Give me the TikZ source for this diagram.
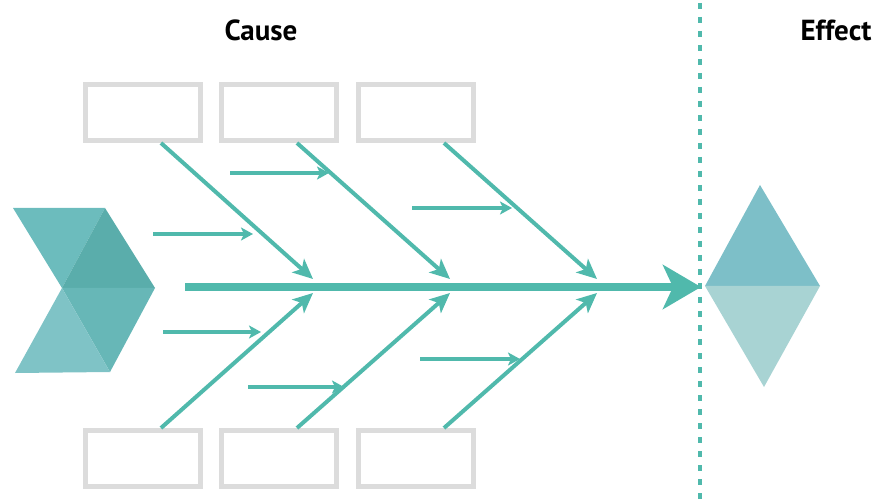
\documentclass[tikz,border=0pt]{standalone}
\usepackage{fontspec}
\setmainfont{PT Sans}
\usepackage{tikz}
\usetikzlibrary{
  arrows.meta,
  positioning,
  calc
}
\definecolor{fishteal}{RGB}{80,185,172}
\definecolor{boxgray}{RGB}{220,220,220}
\definecolor{chevA}{RGB}{108,188,189}
\definecolor{chevB}{RGB}{90,173,171}
\definecolor{chevC}{RGB}{103,183,183}
\definecolor{chevD}{RGB}{127,195,198}
\definecolor{diaTop}{RGB}{125,191,200}
\definecolor{diaBot}{RGB}{168,211,211}
\tikzset{
  causebox/.style={draw=boxgray,line width=5pt,minimum width=115pt,minimum height=56pt,inner sep=0pt},
  bone/.style={fishteal,line width=4pt,-{Stealth[length=20pt,width=18pt,inset=5pt]}},
  twig/.style={fishteal,line width=4pt,-{Stealth[length=12pt,width=13pt,inset=3pt]}},
  spine/.style={fishteal,line width=8pt,-{Stealth[length=38pt,width=44pt,inset=10pt]}},
  divider/.style={fishteal,line width=3.5pt,dash pattern=on 6pt off 8pt},
  heading/.style={font=\bfseries\fontsize{29}{31}\selectfont}
}

\begin{document}
\begin{tikzpicture}[x=1pt,y=-1pt]
	\useasboundingbox (0,0) rectangle (877,502);

	% head of the fish
	\fill[chevA] (13,208) -- (105,208) -- (62,288) -- cycle;
	\fill[chevB] (105,208) -- (155,288) -- (62,288) -- cycle;
	\fill[chevC] (62,288) -- (155,288) -- (110,372) -- cycle;
	\fill[chevD] (62,288) -- (110,372) -- (15,373) -- cycle;

	% effect
	\fill[diaTop] (705,286) -- (760,185) -- (820,286) -- cycle;
	\fill[diaBot] (705,286) -- (820,286) -- (764,387) -- cycle;
	\draw[divider] (700,3) -- (700,502);

	\node[heading] (cause) at (261,30) {Cause};
	\node[heading] (effect) at (836,30) {Effect};

	\node[causebox] (top1) at (143,112.5) {};
	\node[causebox] (top2) at (279,112.5) {};
	\node[causebox] (top3) at (416,112.5) {};
	\node[causebox] (bot1) at (143,458.5) {};
	\node[causebox] (bot2) at (279,458.5) {};
	\node[causebox] (bot3) at (416,458.5) {};

	\coordinate (tail) at (185,287);
	\coordinate (head) at (701,287);
	\draw[spine] (tail) -- (head);

	\coordinate (j1t) at (313,279);
	\coordinate (j2t) at (450,279);
	\coordinate (j3t) at (597,279);
	\coordinate (j1b) at (313,293);
	\coordinate (j2b) at (450,293);
	\coordinate (j3b) at (597,293);

	\draw[bone] ([xshift=18pt]top1.south) -- (j1t);
	\draw[bone] ([xshift=18pt]top2.south) -- (j2t);
	\draw[bone] ([xshift=28pt]top3.south) -- (j3t);
	\draw[bone] ([xshift=18pt]bot1.north) -- (j1b);
	\draw[bone] ([xshift=18pt]bot2.north) -- (j2b);
	\draw[bone] ([xshift=28pt]bot3.north) -- (j3b);

	% sub causes
	\coordinate (sub1) at (230,173);
	\coordinate (sub2) at (153,234);
	\coordinate (sub3) at (412,208);
	\coordinate (sub4) at (163,332);
	\coordinate (sub5) at (248,387);
	\coordinate (sub6) at (420,359);
	\draw[twig] (sub1) -- ++(99,0);
	\draw[twig] (sub2) -- ++(100,0);
	\draw[twig] (sub3) -- ++(100,0);
	\draw[twig] (sub4) -- ++(98,0);
	\draw[twig] (sub5) -- ++(96,0);
	\draw[twig] (sub6) -- ++(100,0);
\end{tikzpicture}
\end{document}
